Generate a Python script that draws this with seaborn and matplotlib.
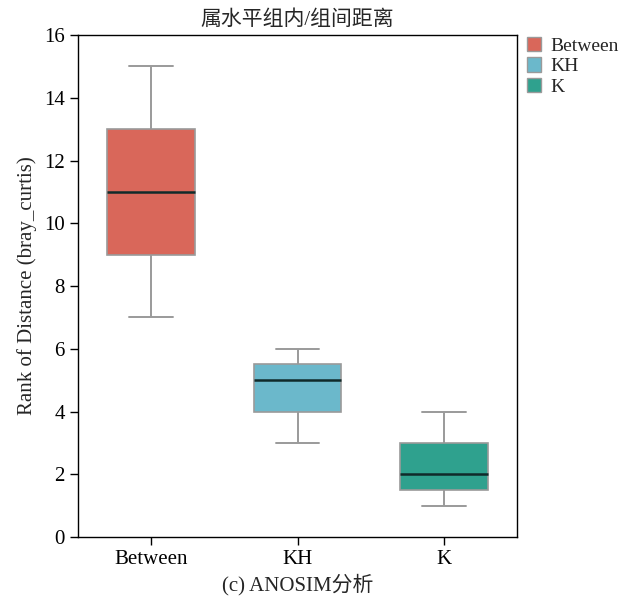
import matplotlib
matplotlib.use("Agg")
import matplotlib.pyplot as plt
import seaborn as sns
import pandas as pd
from matplotlib.patches import Patch

categories = ["Between", "KH", "K"]
between_vals = [7, 9, 11, 13, 15]
kh_vals = [3, 4, 5, 5.5, 6]
k_vals = [1, 1.5, 2, 3, 4]
colors = ["#D9675A", "#6BB8CB", "#2FA18E"]
yticks = [0, 2, 4, 6, 8, 10, 12, 14, 16]

sns.set_theme(style="white")
plt.rcParams['font.family'] = ['Liberation Serif', 'Noto Sans CJK SC', 'DejaVu Sans']

df = pd.DataFrame({
    "group": ["Between"] * len(between_vals) + ["KH"] * len(kh_vals) + ["K"] * len(k_vals),
    "value": between_vals + kh_vals + k_vals,
})

fig = plt.figure(figsize=(6.29, 5.99), dpi=100)
ax = fig.add_axes([0.124, 0.1035, 0.698, 0.838])

sns.boxplot(data=df, x="group", y="value", hue="group", order=categories,
            hue_order=categories, palette=colors, width=0.6, whis=1.5,
            dodge=False, legend=False, ax=ax, saturation=1,
            boxprops=dict(edgecolor="#9a9a9a", linewidth=1.2),
            whiskerprops=dict(color="#9a9a9a", linewidth=1.4),
            capprops=dict(color="#9a9a9a", linewidth=1.4),
            medianprops=dict(color="#102a2a", linewidth=1.8),
            flierprops=dict(marker="o", markersize=3))

ax.set_xlim(-0.5, 2.5)
ax.set_ylim(0, 16)
ax.set_yticks(yticks)
ax.set_yticklabels([str(t) for t in yticks])
for s in ax.spines.values():
    s.set_visible(True)
    s.set_color("black")
    s.set_linewidth(1.0)
ax.tick_params(axis="both", which="major", direction="out", length=6, width=1,
               color="black", labelsize=15, labelcolor="black", bottom=True, left=True)
ax.set_xlabel("(c) ANOSIM分析", fontsize=15, labelpad=3)
ax.set_ylabel("Rank of Distance (bray_curtis)", fontsize=15, labelpad=5)
ax.set_title("属水平组内/组间距离", fontsize=15, pad=7,
             family=['Liberation Serif', 'Noto Sans CJK SC'])

handles = [Patch(facecolor=c, edgecolor="#9a9a9a", label=l) for c, l in zip(colors, categories)]
ax.legend(handles=handles, loc="upper left", bbox_to_anchor=(1.0, 1.015), frameon=False,
          fontsize=14, handlelength=0.75, handleheight=0.75, handletextpad=0.45,
          labelspacing=0.12, borderaxespad=0.2, borderpad=0.3)

fig.savefig("out.png", dpi=100)
